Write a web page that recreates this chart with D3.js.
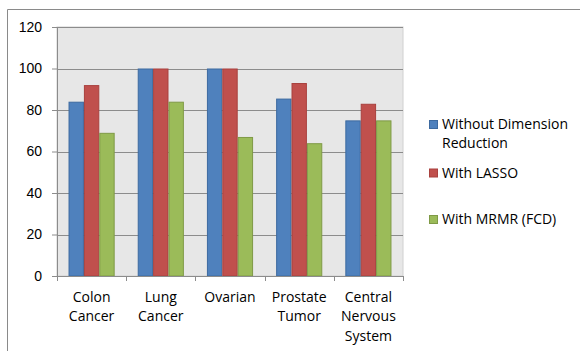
<!DOCTYPE html>
<html lang="en">
<head>
<meta charset="UTF-8">
<title>Accuracy by dataset</title>
<script src="https://d3js.org/d3.v7.min.js"></script>
<style>
    body { margin: 0; background: #fff; }
    svg { display: block; font-family: "Open Sans", sans-serif; }
    .tick text { font-size: 14px; fill: #000; }
    .legend text { font-size: 14px; fill: #000; }
</style>
</head>
<body>
<svg class="chart"></svg>
<script>
    const categories = [["Colon", "Cancer"], ["Lung", "Cancer"], ["Ovarian"], ["Prostate", "Tumor"], ["Central", "Nervous", "System"]];
    const seriesNames = [["Without Dimension", "Reduction"], ["With LASSO"], ["With MRMR (FCD)"]];
    const withoutReduction = [84, 100, 100, 85.5, 75];
    const withLasso = [92, 100, 100, 93, 83];
    const withMrmr = [69, 84, 67, 64, 75];
    const yTicks = [0, 20, 40, 60, 80, 100, 120];

    const colors = ["#4f81bd", "#c0504d", "#9bbb59"];
    const strokes = ["#3d6aa0", "#a9413e", "#7f9a46"];
    const series = [withoutReduction, withLasso, withMrmr];

    const width = 580, height = 351;
    const plot = { left: 57, top: 27, right: 403, bottom: 276 };

    const svg = d3.select(".chart")
        .attr("width", width)
        .attr("height", height);

    // outer chart frame (only top and left edges are visible)
    svg.append("path")
        .attr("d", `M7.5,${height}V9.5H${width}`)
        .attr("fill", "none")
        .attr("stroke", "#8a8a8a")
        .attr("stroke-width", 1);

    const x = d3.scaleBand()
        .domain(d3.range(categories.length))
        .range([plot.left, plot.right]);

    const inner = d3.scaleBand()
        .domain(d3.range(series.length))
        .range([0, x.bandwidth()])
        .paddingInner(0)
        .paddingOuter(0.75);

    const y = d3.scaleLinear()
        .domain([0, 120])
        .range([plot.bottom, plot.top]);

    svg.append("rect")
        .attr("x", plot.left)
        .attr("y", plot.top)
        .attr("width", plot.right - plot.left)
        .attr("height", plot.bottom - plot.top)
        .attr("fill", "#e7e7e7")
        .attr("stroke", "#d0d0d0");

    svg.append("g")
        .selectAll("line")
        .data(yTicks.filter(d => d > 0))
        .enter().append("line")
        .attr("x1", plot.left)
        .attr("x2", plot.right)
        .attr("y1", d => Math.round(y(d)) + 0.5)
        .attr("y2", d => Math.round(y(d)) + 0.5)
        .attr("stroke", "#8c8c8c");

    const groups = svg.append("g")
        .selectAll("g")
        .data(series)
        .enter().append("g")
        .attr("fill", (d, i) => colors[i])
        .attr("stroke", (d, i) => strokes[i]);

    groups.selectAll("rect")
        .data((vals, si) => vals.map((v, ci) => ({ v, ci, si })))
        .enter().append("rect")
        .attr("x", d => x(d.ci) + inner(d.si) + 0.5)
        .attr("width", inner.bandwidth() - 1)
        .attr("y", d => y(d.v) + 0.5)
        .attr("height", d => y(0) - y(d.v) - 0.5)
        .attr("stroke-width", 1);

    // y axis
    const yAxis = svg.append("g")
        .attr("transform", `translate(${plot.left},0)`)
        .call(d3.axisLeft(y).tickValues(yTicks).tickSize(5).tickPadding(10));
    yAxis.select(".domain").attr("stroke", "#8c8c8c");
    yAxis.selectAll(".tick line").attr("stroke", "#8c8c8c");

    // x axis
    const xEdges = d3.range(categories.length + 1).map(i => plot.left + i * x.step());
    const xAxis = svg.append("g");
    xAxis.append("line")
        .attr("x1", plot.left - 5).attr("x2", plot.right)
        .attr("y1", plot.bottom + 0.5).attr("y2", plot.bottom + 0.5)
        .attr("stroke", "#8c8c8c");
    xAxis.selectAll(".xtick")
        .data(xEdges)
        .enter().append("line")
        .attr("class", "xtick")
        .attr("x1", d => Math.round(d) + 0.5).attr("x2", d => Math.round(d) + 0.5)
        .attr("y1", plot.bottom).attr("y2", plot.bottom + 5)
        .attr("stroke", "#8c8c8c");

    const xLabels = xAxis.selectAll(".xlabel")
        .data(categories)
        .enter().append("text")
        .attr("class", "xlabel")
        .attr("text-anchor", "middle")
        .attr("font-size", 14)
        .attr("fill", "#000")
        .attr("x", (d, i) => x(i) + x.bandwidth() / 2)
        .attr("y", 301.5);
    xLabels.selectAll("tspan")
        .data(d => d)
        .enter().append("tspan")
        .attr("x", function () { return d3.select(this.parentNode).attr("x"); })
        .attr("dy", (d, i) => i === 0 ? 0 : 19.5)
        .text(d => d);

    // legend
    const legendY = [124, 172.5, 219];
    const legend = svg.append("g").attr("class", "legend");
    const items = legend.selectAll("g")
        .data(seriesNames)
        .enter().append("g")
        .attr("transform", (d, i) => `translate(429,${legendY[i]})`);
    items.append("rect")
        .attr("x", 0.5).attr("y", -3.5)
        .attr("width", 8).attr("height", 8)
        .attr("fill", (d, i) => colors[i])
        .attr("stroke", (d, i) => strokes[i]);
    const legendText = items.append("text")
        .attr("x", 13)
        .attr("y", 5);
    legendText.selectAll("tspan")
        .data(d => d)
        .enter().append("tspan")
        .attr("x", 13)
        .attr("dy", (d, i) => i === 0 ? 0 : 18.5)
        .text(d => d);
</script>
</body>
</html>
